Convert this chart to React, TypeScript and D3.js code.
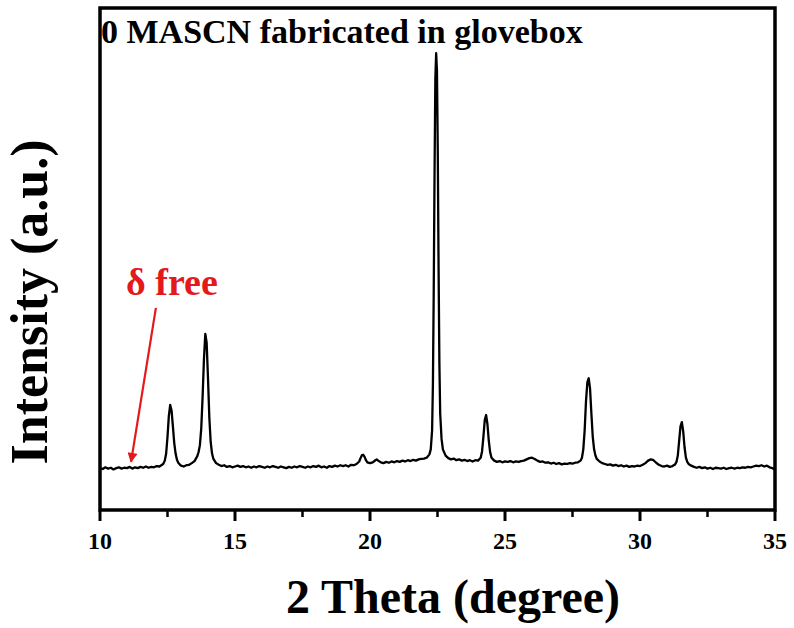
import React from "react";
import * as d3 from "d3";

// XRD pattern: [2θ (degree), intensity (a.u.)]
const xrdPattern: [number, number][] = [
  [10.0, 0], [10.1, -2], [10.2, 2], [10.3, -1], [10.4, 1], [10.5, -3], [10.6, 0], [10.7, 2], [10.8, -1], [10.9, 1],
  [11.0, 0], [11.1, 3], [11.2, -1], [11.3, 2], [11.4, 0], [11.5, 3], [11.6, 1], [11.7, 4], [11.8, 1], [11.9, 3],
  [12.0, 2], [12.1, 5], [12.2, 4], [12.3, 8], [12.35, 11], [12.4, 18], [12.45, 35], [12.5, 75], [12.55, 125],
  [12.6, 151], [12.65, 138], [12.7, 100], [12.75, 60], [12.8, 35], [12.85, 20], [12.9, 13], [12.95, 9],
  [13.0, 6], [13.1, 4], [13.2, 7], [13.3, 8], [13.4, 12], [13.5, 17], [13.6, 28], [13.65, 38], [13.7, 55],
  [13.75, 95], [13.8, 170], [13.85, 260], [13.9, 321], [13.95, 300], [14.0, 215], [14.05, 120], [14.1, 62],
  [14.15, 35], [14.2, 22], [14.3, 12], [14.4, 8], [14.5, 5], [14.6, 7], [14.7, 3], [14.8, 5], [14.9, 2],
  [15.0, 4], [15.1, 6], [15.2, 3], [15.3, 5], [15.4, 2], [15.5, 4], [15.6, 1], [15.7, 4], [15.8, 2], [15.9, 5],
  [16.0, 3], [16.1, 1], [16.2, 4], [16.3, 2], [16.4, 5], [16.5, 3], [16.6, 1], [16.7, 4], [16.8, 2], [16.9, 0],
  [17.0, 3], [17.1, 1], [17.2, 4], [17.3, 2], [17.4, 5], [17.5, 3], [17.6, 1], [17.7, 4], [17.8, 2], [17.9, 5],
  [18.0, 3], [18.1, 6], [18.2, 2], [18.3, 4], [18.4, 1], [18.5, 5], [18.6, 3], [18.7, 6], [18.8, 4], [18.9, 7],
  [19.0, 5], [19.1, 7], [19.2, 4], [19.3, 8], [19.4, 7], [19.5, 10], [19.6, 16], [19.65, 24], [19.7, 31],
  [19.75, 32], [19.8, 27], [19.85, 19], [19.9, 14], [20.0, 12], [20.1, 14], [20.2, 19], [20.25, 21], [20.3, 18],
  [20.4, 14], [20.5, 12], [20.6, 15], [20.7, 13], [20.8, 16], [20.9, 14], [21.0, 17], [21.1, 15], [21.2, 18],
  [21.3, 16], [21.4, 19], [21.5, 17], [21.6, 20], [21.7, 18], [21.8, 21], [21.9, 22], [22.0, 23], [22.1, 25],
  [22.2, 33], [22.25, 45], [22.3, 90], [22.33, 200], [22.36, 420], [22.39, 700], [22.42, 930], [22.45, 992],
  [22.48, 950], [22.51, 760], [22.54, 480], [22.57, 250], [22.6, 130], [22.65, 70], [22.7, 45], [22.8, 30],
  [22.9, 24], [23.0, 21], [23.1, 23], [23.2, 19], [23.3, 21], [23.4, 18], [23.5, 20], [23.6, 17], [23.7, 19],
  [23.8, 16], [23.9, 19], [24.0, 18], [24.1, 25], [24.15, 40], [24.2, 75], [24.25, 115], [24.3, 127],
  [24.35, 105], [24.4, 65], [24.45, 38], [24.5, 25], [24.6, 18], [24.7, 15], [24.8, 17], [24.9, 14],
  [25.0, 16], [25.1, 15], [25.2, 17], [25.3, 14], [25.4, 16], [25.5, 15], [25.6, 17], [25.7, 18], [25.8, 21],
  [25.9, 24], [26.0, 25], [26.1, 22], [26.2, 18], [26.3, 15], [26.4, 16], [26.5, 13], [26.6, 14], [26.7, 11],
  [26.8, 13], [26.9, 10], [27.0, 12], [27.1, 9], [27.2, 11], [27.3, 10], [27.4, 12], [27.5, 11], [27.6, 13],
  [27.7, 14], [27.8, 18], [27.85, 25], [27.9, 45], [27.95, 90], [28.0, 160], [28.05, 205], [28.1, 215],
  [28.15, 190], [28.2, 130], [28.25, 75], [28.3, 45], [28.35, 30], [28.4, 22], [28.5, 16], [28.6, 12],
  [28.7, 10], [28.8, 8], [28.9, 9], [29.0, 6], [29.1, 8], [29.2, 5], [29.3, 7], [29.4, 4], [29.5, 6],
  [29.6, 3], [29.7, 5], [29.8, 4], [29.9, 6], [30.0, 5], [30.1, 8], [30.2, 12], [30.3, 18], [30.4, 21],
  [30.5, 19], [30.6, 13], [30.7, 8], [30.8, 5], [30.9, 4], [31.0, 6], [31.1, 3], [31.2, 5], [31.3, 9],
  [31.35, 15], [31.4, 30], [31.45, 65], [31.5, 100], [31.55, 110], [31.6, 88], [31.65, 50], [31.7, 25],
  [31.75, 15], [31.8, 10], [31.9, 6], [32.0, 3], [32.1, 1], [32.2, 3], [32.3, 0], [32.4, 2], [32.5, -1],
  [32.6, 1], [32.7, -2], [32.8, 1], [32.9, 0], [33.0, -1], [33.1, 1], [33.2, -2], [33.3, 0], [33.4, 1],
  [33.5, -1], [33.6, 1], [33.7, 0], [33.8, 2], [33.9, 1], [34.0, 3], [34.1, 2], [34.2, 4], [34.3, 6],
  [34.4, 5], [34.5, 7], [34.6, 4], [34.7, 6], [34.8, 2], [34.9, 0], [35.0, -3],
];

const xDomain: [number, number] = [10, 35];
const yDomain: [number, number] = [-100, 1100];
const majorTicks = [10, 15, 20, 25, 30, 35];
const minorTicks = [12.5, 17.5, 22.5, 27.5, 32.5];

const titleText = "0 MASCN fabricated in glovebox";
const xLabel = "2 Theta (degree)";
const yLabel = "Intensity (a.u.)";
const annotationText = "δ free";
// arrow: from below the label down to the baseline, in data units [2θ, intensity]
const arrowStart: [number, number] = [12.07, 383];
const arrowEnd: [number, number] = [11.15, 15];

const W = 794;
const H = 628;
const plot = { left: 100, right: 775, top: 8, bottom: 510 };
const serif = "'Liberation Serif', 'Times New Roman', serif";
const red = "#e3191c";

export default function App() {
  const x = d3.scaleLinear().domain(xDomain).range([plot.left, plot.right]);
  const y = d3.scaleLinear().domain(yDomain).range([plot.bottom, plot.top]);

  const line = d3
    .line<[number, number]>()
    .x((d) => x(d[0]))
    .y((d) => y(d[1]));

  const ax1 = x(arrowStart[0]);
  const ay1 = y(arrowStart[1]);
  const ax2 = x(arrowEnd[0]);
  const ay2 = y(arrowEnd[1]);

  return (
    <div style={{ position: "fixed", left: 0, top: 0, width: W, height: H, background: "#fff" }}>
      <svg width={W} height={H} viewBox={`0 0 ${W} ${H}`}>
        <defs>
          <marker id="arrowHead" viewBox="0 0 10 10" refX="9" refY="5" markerWidth="5.5" markerHeight="4.5" orient="auto">
            <path d="M0,0 L10,5 L0,10 Z" fill={red} />
          </marker>
        </defs>
        <rect x={0} y={0} width={W} height={H} fill="#fff" />

        {/* data trace */}
        <path d={line(xrdPattern) || ""} fill="none" stroke="#000" strokeWidth={2.3} strokeLinejoin="round" />

        {/* frame */}
        <rect
          x={plot.left}
          y={plot.top}
          width={plot.right - plot.left}
          height={plot.bottom - plot.top}
          fill="none"
          stroke="#000"
          strokeWidth={3.5}
        />

        {/* ticks */}
        {majorTicks.map((t) => (
          <line key={`M${t}`} x1={x(t)} x2={x(t)} y1={plot.bottom} y2={plot.bottom + 11} stroke="#000" strokeWidth={3} />
        ))}
        {minorTicks.map((t) => (
          <line key={`m${t}`} x1={x(t)} x2={x(t)} y1={plot.bottom} y2={plot.bottom + 7} stroke="#000" strokeWidth={2.5} />
        ))}
        {majorTicks.map((t) => (
          <text
            key={`L${t}`}
            x={x(t)}
            y={549}
            textAnchor="middle"
            fontFamily={serif}
            fontWeight="bold"
            fontSize={24}
            fill="#000"
          >
            {t}
          </text>
        ))}

        {/* axis labels */}
        <text x={453} y={613} textAnchor="middle" fontFamily={serif} fontWeight="bold" fontSize={48} fill="#000">
          {xLabel}
        </text>
        <text
          transform={`translate(47, 302) rotate(-90)`}
          textAnchor="middle"
          fontFamily={serif}
          fontWeight="bold"
          fontSize={52}
          fill="#000"
        >
          {yLabel}
        </text>

        {/* title */}
        <text x={101} y={43} fontFamily={serif} fontWeight="bold" fontSize={34} fill="#000">
          {titleText}
        </text>

        {/* annotation */}
        <text x={126} y={295} fontFamily={serif} fontWeight="bold" fontSize={38} fill={red}>
          {annotationText}
        </text>
        <line x1={ax1} y1={ay1} x2={ax2} y2={ay2} stroke={red} strokeWidth={2.2} markerEnd="url(#arrowHead)" />
      </svg>
    </div>
  );
}
